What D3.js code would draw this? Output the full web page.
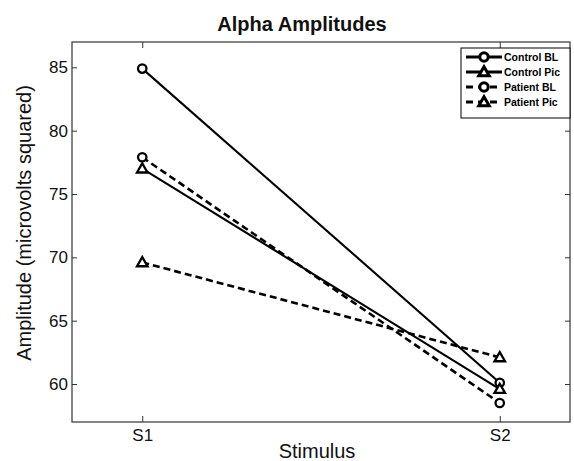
<!DOCTYPE html>
<html>
<head>
<meta charset="utf-8">
<script src="https://cdn.jsdelivr.net/npm/d3@7"></script>
<style>
  html, body { margin: 0; padding: 0; background: #fff; }
  svg { display: block; font-family: "Liberation Sans", Arial, sans-serif; }
</style>
</head>
<body>
<svg id="chart" width="574" height="461"></svg>
<script>
const categories = ["S1", "S2"];
const controlBL = [84.9, 60.1];
const controlPic = [77.0, 59.6];
const patientBL = [77.9, 58.5];
const patientPic = [69.6, 62.1];
const yTicks = [60, 65, 70, 75, 80, 85];
const seriesNames = ["Control BL", "Control Pic", "Patient BL", "Patient Pic"];

const series = [
  { name: seriesNames[0], values: controlBL, dash: null, marker: "circle" },
  { name: seriesNames[1], values: controlPic, dash: null, marker: "triangle" },
  { name: seriesNames[2], values: patientBL, dash: "7,4", marker: "circle" },
  { name: seriesNames[3], values: patientPic, dash: "7,4", marker: "triangle" }
];

const svg = d3.select("#chart");
const mLeft = 72, mRight = 570, mTop = 42, mBottom = 422;

const x = d3.scalePoint().domain(categories).range([mLeft, mRight]).padding(0.1965);
const y = d3.scaleLinear().domain([57, 87]).range([mBottom, mTop]);

// frame
svg.append("rect").attr("x", mLeft).attr("y", mTop).attr("width", mRight - mLeft).attr("height", mBottom - mTop)
  .attr("fill", "none").attr("stroke", "#333").attr("stroke-width", 1.2);

// left axis (inward ticks)
const yAxis = svg.append("g").attr("transform", `translate(${mLeft},0)`)
  .call(d3.axisLeft(y).tickValues(yTicks).tickSize(-5).tickPadding(4));
yAxis.select(".domain").remove();
yAxis.selectAll("line").attr("stroke", "#333");
yAxis.selectAll("text").attr("font-size", 17).attr("fill", "#111")
  .attr("font-family", "Liberation Sans, Arial, sans-serif");

// right ticks (inward)
const yAxisR = svg.append("g").attr("transform", `translate(${mRight},0)`)
  .call(d3.axisRight(y).tickValues(yTicks).tickSize(-5).tickFormat(""));
yAxisR.select(".domain").remove();
yAxisR.selectAll("line").attr("stroke", "#333");

// bottom axis (inward ticks)
const xAxis = svg.append("g").attr("transform", `translate(0,${mBottom})`)
  .call(d3.axisBottom(x).tickSize(-6).tickPadding(7));
xAxis.select(".domain").remove();
xAxis.selectAll("line").attr("stroke", "#333");
xAxis.selectAll("text").attr("font-size", 17).attr("fill", "#111")
  .attr("font-family", "Liberation Sans, Arial, sans-serif");

// top ticks (inward)
const xAxisT = svg.append("g").attr("transform", `translate(0,${mTop})`)
  .call(d3.axisTop(x).tickSize(-6).tickFormat(""));
xAxisT.select(".domain").remove();
xAxisT.selectAll("line").attr("stroke", "#333");

// title & labels
svg.append("text").attr("x", 302).attr("y", 31).attr("text-anchor", "middle")
  .attr("font-size", 20).attr("font-weight", "bold").attr("fill", "#111").text("Alpha Amplitudes");
svg.append("text").attr("x", 317).attr("y", 458).attr("text-anchor", "middle")
  .attr("font-size", 20).attr("fill", "#111").text("Stimulus");
svg.append("text").attr("transform", "translate(31,223) rotate(-90)").attr("text-anchor", "middle")
  .attr("font-size", 20).attr("fill", "#111").text("Amplitude (microvolts squared)");

const line = d3.line().x((d, i) => x(categories[i])).y(d => y(d));
const triangle = d3.symbol().type(d3.symbolTriangle).size(48);

function drawMarker(g, type, cx, cy, sw) {
  if (type === "circle") {
    g.append("circle").attr("cx", cx).attr("cy", cy).attr("r", 4.2)
      .attr("fill", "#fff").attr("stroke", "#000").attr("stroke-width", sw);
  } else {
    g.append("path").attr("d", triangle()).attr("transform", `translate(${cx},${cy + 0.8})`)
      .attr("fill", "#fff").attr("stroke", "#000").attr("stroke-width", sw).attr("stroke-linejoin", "miter");
  }
}

const plot = svg.append("g");
series.forEach(s => {
  plot.append("path").attr("d", line(s.values)).attr("fill", "none").attr("stroke", "#000")
    .attr("stroke-width", s.dash ? 2.6 : 2.1).attr("stroke-dasharray", s.dash);
});
series.forEach(s => {
  s.values.forEach((v, i) => drawMarker(plot, s.marker, x(categories[i]), y(v), 2.3));
});

// legend
const lg = svg.append("g");
lg.append("rect").attr("x", 461).attr("y", 48).attr("width", 109).attr("height", 70)
  .attr("fill", "#fff").attr("stroke", "#000").attr("stroke-width", 1);
const rowY = [57, 72, 87, 102];
series.forEach((s, i) => {
  const yy = rowY[i];
  lg.append("line").attr("x1", 466).attr("x2", 502).attr("y1", yy).attr("y2", yy)
    .attr("stroke", "#000").attr("stroke-width", 3).attr("stroke-dasharray", s.dash ? "7,5" : null);
  drawMarker(lg, s.marker, 484, yy, 3);
  lg.append("text").attr("x", 504).attr("y", yy + 4).attr("font-size", 10.5).attr("font-weight", "bold")
    .attr("fill", "#000").text(s.name);
});
</script>
</body>
</html>
